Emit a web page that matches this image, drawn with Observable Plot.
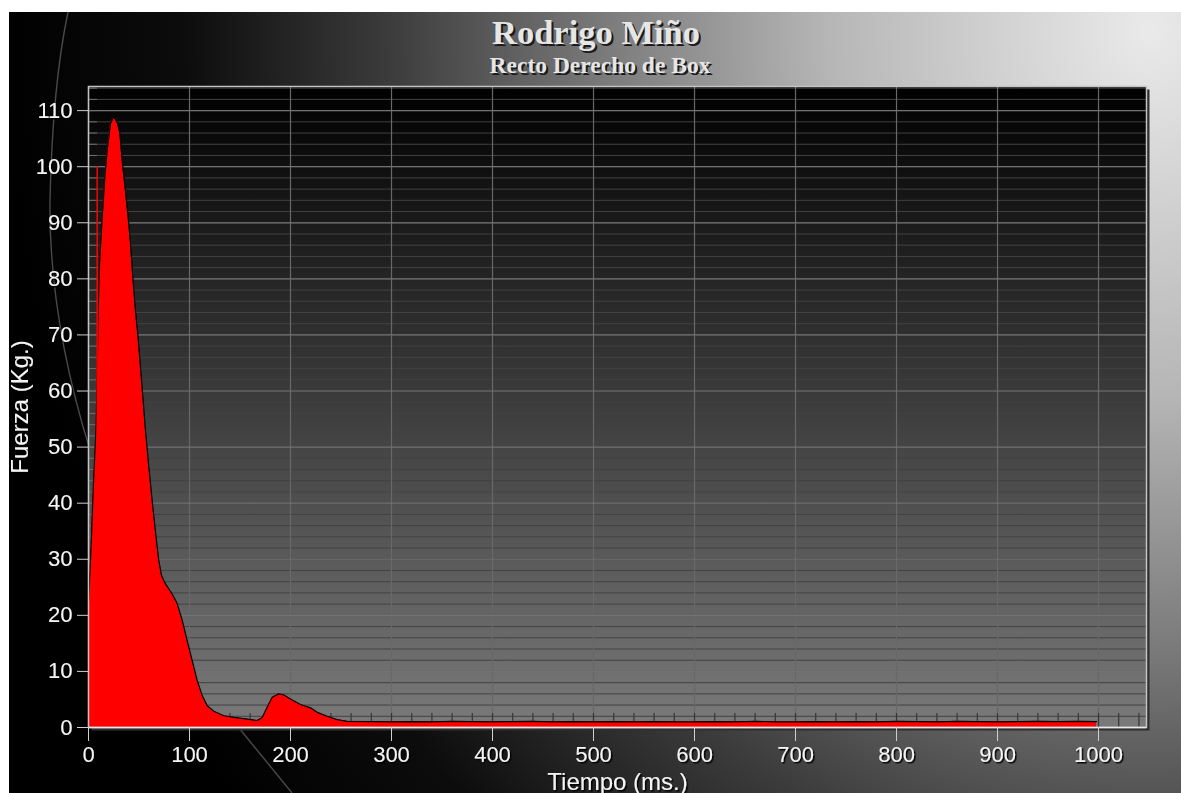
<!DOCTYPE html>
<html><head><meta charset="utf-8">
<script src="https://cdn.jsdelivr.net/npm/d3@7"></script>
<script src="https://cdn.jsdelivr.net/npm/@observablehq/plot@0.6"></script>
<style>
body{margin:0;background:#fff;}
#wrap{position:relative;width:1181px;height:793px;overflow:hidden;background:#fff;}
#bg{position:absolute;left:9px;top:12px;width:1172px;height:781px;
 background:radial-gradient(ellipse 1150px 1300px at 1141px 18px,#eaeaea 0%,#b6b6b6 28%,#7c7c7c 47%,#3c3c3c 66%,#0c0c0c 84%,#000 100%);}
#deco{position:absolute;left:0;top:0;}
.t{position:absolute;left:0;text-align:center;font-family:"Liberation Serif","Times New Roman",serif;font-weight:bold;color:#e6e6e6;text-shadow:2px 2px 0 #1a1a1a;white-space:nowrap;}
#title{top:15px;width:1192px;font-size:34.5px;line-height:34px;}
#sub{top:54px;width:1200px;font-size:23.5px;line-height:23px;}
#chart{position:absolute;left:9px;top:12px;}
</style></head>
<body><div id="wrap">
<div id="bg"></div>
<svg id="deco" width="1181" height="793"><path d="M68,12 C60,50 52,110 50,200 C49,280 62,360 90,450 L200,680 L292,793" fill="none" stroke="#4a4a4a" stroke-width="1.4"/></svg>
<div class="t" id="title">Rodrigo Miño</div>
<div class="t" id="sub">Recto Derecho de Box</div>
<div id="chart"></div>
</div>
<script>
// Data
const time = [0, 2.7, 5, 7.5, 8.5, 9.5, 10.9, 13.6, 16.1, 18.5, 21.8, 25, 28.4, 31, 33.4, 36.6, 39.9, 41.6, 43.9, 46.5, 48.8, 52.5, 56.4, 60, 63, 67.3, 69.6, 72.3, 76.2, 82.9, 87.8, 92.8, 97.7, 102.7, 107.6, 112.6, 117.5, 124.1, 134, 143.9, 157.1, 167, 172, 176.9, 181.9, 188.4, 193.4, 200, 209.9, 219.8, 226.4, 236.3, 246.2, 256.1,
  280, 300, 320, 340, 360, 380, 400, 420, 440, 460, 480, 500, 520, 540, 560, 580, 600, 620, 640, 660, 680, 700, 720, 740, 760, 780, 800, 820, 840, 860, 880, 900, 920, 940, 960, 980, 998];
const fuerza = [22.3, 32.8, 44, 53.5, 62, 74, 82.7, 91, 98, 102.9, 107.7, 108.9, 107.9, 106.1, 101, 95.7, 89.8, 86.3, 80.3, 74.3, 70.2, 62, 53, 46, 40.5, 33.3, 29.8, 27.1, 25.6, 23.8, 22.1, 19.1, 15.5, 11.9, 8.4, 5.7, 3.9, 2.9, 2.1, 1.8, 1.5, 1.25, 1.8, 3.6, 5.4, 6.0, 5.8, 5.1, 4.1, 3.5, 2.7, 2.0, 1.4, 1.1,
  1.05, 1.0, 1.05, 1.0, 1.1, 1.05, 1.0, 1.05, 1.1, 1.0, 1.05, 1.0, 1.05, 1.0, 1.05, 1.0, 1.0, 1.05, 1.0, 1.1, 1.0, 1.0, 1.05, 1.0, 1.05, 1.0, 1.1, 1.05, 1.0, 1.1, 1.05, 1.0, 1.05, 1.1, 1.05, 1.1, 1.05];
const spikeTime = [8.6];
const spikeFuerza = [100];
const xTicks = [0, 100, 200, 300, 400, 500, 600, 700, 800, 900, 1000];
const yTicks = [0, 10, 20, 30, 40, 50, 60, 70, 80, 90, 100, 110];
const xMinor = d3.range(20, 1041, 20);
const yMinor = d3.range(2, 115, 2);

const data = time.map((t, i) => ({t, v: fuerza[i]}));
const spikes = spikeTime.map((t, i) => ({t, v: spikeFuerza[i]}));

const chart = Plot.plot({
  width: 1172, height: 781,
  marginLeft: 79, marginTop: 74, marginRight: 35, marginBottom: 66,
  style: {background: "transparent", color: "#f2f2f2", fontFamily: "'Liberation Sans', Arial, sans-serif", overflow: "visible"},
  x: {domain: [0, 1047.5]},
  y: {domain: [0, 114.3]},
  marks: [
    Plot.frame({fill: "#2e2e2e", dx: 3, dy: 3}),
    Plot.frame({fill: "url(#plotbg)"}),
    Plot.ruleY(yMinor, {stroke: "#424242", strokeWidth: 1}),
    Plot.ruleX(xTicks, {stroke: "#686868", strokeWidth: 1.2}),
    Plot.ruleY(yTicks, {stroke: "#727272", strokeWidth: 1.2}),
    Plot.ruleX(xMinor, {y1: 0, y2: 2.5, stroke: "#363636", strokeWidth: 1.2}),
    Plot.ruleY(yMinor, {x1: 0, x2: 9, stroke: "#6e6e6e", strokeWidth: 1}),
    Plot.areaY(data, {x: "t", y: "v", fill: "#ff0000"}),
    Plot.lineY(data, {x: "t", y: "v", stroke: "#000", strokeWidth: 1.2}),
    Plot.ruleX(spikes, {x: "t", y1: 0, y2: "v", stroke: "#ff0000", strokeWidth: 1.5}),
    Plot.frame({stroke: "#c4c4c4", strokeWidth: 1.5}),
    Plot.ruleY([0], {stroke: "#e8e8e8", strokeWidth: 1.5}),
    Plot.axisX(xTicks, {anchor: "bottom", tickSize: 14, tickPadding: 5, fontSize: 22, stroke: "#d0d0d0", fill: "#f4f4f4",
      tickFormat: d => String(d), label: "Tiempo (ms.)", labelAnchor: "center", labelArrow: "none", labelOffset: 62}),
    Plot.axisY(yTicks, {anchor: "left", tickSize: 11, tickPadding: 5, fontSize: 22, stroke: "#d0d0d0", fill: "#f4f4f4",
      tickFormat: d => String(d), label: "Fuerza (Kg.)", labelAnchor: "center", labelArrow: "none", labelOffset: 78})
  ]
});

chart.insertAdjacentHTML("afterbegin",
  '<defs><linearGradient id="plotbg" x1="0" y1="0" x2="0" y2="1"><stop offset="0" stop-color="#000"/><stop offset="1" stop-color="#7a7a7a"/></linearGradient>' +
  '<filter id="ts" x="-20%" y="-20%" width="140%" height="140%"><feDropShadow dx="1.5" dy="1.5" stdDeviation="0.6" flood-color="#000" flood-opacity="0.95"/></filter></defs>');
chart.querySelectorAll("g[aria-label$='label']").forEach(g => {
  g.setAttribute("filter", "url(#ts)");
  g.querySelectorAll("text").forEach(t => t.setAttribute("font-size", g.getAttribute("aria-label").includes("tick") ? "22" : "24"));
});
document.getElementById("chart").appendChild(chart);
</script>
</body></html>
